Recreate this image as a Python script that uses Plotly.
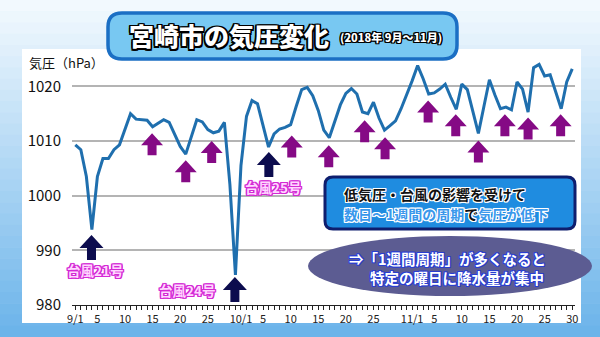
import plotly.graph_objects as go

# Daily sea-level pressure at Miyazaki, 2018-09-01 .. 2018-11-30 (hPa)
sep_hpa = [1009.3, 1008.4, 1003.5, 993.8, 1003.5, 1006.8, 1006.8, 1008.4, 1009.3, 1012.0,
           1015.0, 1014.0, 1013.9, 1013.8, 1012.6, 1013.2, 1013.9, 1013.4, 1011.3, 1009.0,
           1007.6, 1010.8, 1013.9, 1013.5, 1012.1, 1011.5, 1011.8, 1013.4, 1002.0, 985.5]
oct_hpa = [1005.5, 1014.5, 1017.4, 1016.8, 1012.8, 1008.9, 1011.3, 1012.2, 1012.5, 1013.0,
           1016.3, 1019.4, 1019.8, 1018.3, 1015.6, 1012.0, 1010.6, 1013.5, 1016.6, 1018.7,
           1019.6, 1018.6, 1015.3, 1015.0, 1017.1, 1014.2, 1012.0, 1012.8, 1013.7, 1015.9,
           1018.3]
nov_hpa = [1021.0, 1023.8, 1021.4, 1018.6, 1018.8, 1019.5, 1020.4, 1018.0, 1015.8, 1020.4,
           1019.4, 1015.4, 1011.4, 1016.3, 1021.2, 1018.4, 1015.9, 1016.2, 1015.7, 1020.8,
           1019.5, 1015.3, 1023.4, 1024.0, 1021.9, 1022.1, 1019.1, 1015.9, 1020.8, 1023.2]

pressure = sep_hpa + oct_hpa + nov_hpa
days = list(range(len(pressure)))

tick_pos = [0, 4, 9, 14, 19, 24, 30, 34, 39, 44, 49, 54, 61, 65, 70, 75, 80, 85, 90]
tick_text = ["9/1", "5", "10", "15", "20", "25", "10/1", "5", "10", "15", "20", "25",
             "11/1", "5", "10", "15", "20", "25", "30"]
y_ticks = [980, 990, 1000, 1010, 1020]

# pressure dips from lows (day index, arrow tip in hPa)
low_days = [13.9, 20.0, 24.7, 39.2, 45.9, 52.4, 56.1, 63.9, 68.9, 73.0, 77.8, 82.0, 87.9]
low_tips = [1011.4, 1006.5, 1010.0, 1011.0, 1009.2, 1013.8, 1010.7, 1017.4, 1014.9,
            1010.1, 1014.9, 1014.3, 1014.9]

# typhoon passages
typhoon_names = ["台風21号", "台風24号", "台風25号"]
typhoon_days = [2.93, 28.9, 35.05]
typhoon_tips = [992.8, 985.1, 1008.0]
typhoon_label_days = [3.6, 20.3, 35.8]
typhoon_label_hpa = [986.4, 982.7, 1001.6]

# ---- geometry ----
W, H = 600, 337
ML, MR, MT, MB = 72, 25, 59, 32
X_RANGE = [-0.6, 90.5]
Y_RANGE = [980, 1025]
PW, PH = W - ML - MR, H - MT - MB
PX_PER_DAY = PW / (X_RANGE[1] - X_RANGE[0])
PX_PER_HPA = PH / (Y_RANGE[1] - Y_RANGE[0])


def px(x):
    return (x - ML) / PW


def py(y):
    return (H - MB - y) / PH


def outline(color, w=1.0):
    offs = [(-w, -w), (w, -w), (-w, w), (w, w), (0, w), (0, -w), (w, 0), (-w, 0)]
    return ", ".join(f"{dx}px {dy}px 0 {color}" for dx, dy in offs)


def mix(c1, c2, t):
    a = [int(c1[i:i + 2], 16) for i in (1, 3, 5)]
    b = [int(c2[i:i + 2], 16) for i in (1, 3, 5)]
    return "rgb({},{},{})".format(*[round(a[k] + (b[k] - a[k]) * t) for k in range(3)])


def rounded_rect(x0, y0, x1, y1, r):
    def P(x, y):
        return f"{px(x):.5f},{py(y):.5f}"
    return (f"M{P(x0 + r, y0)} L{P(x1 - r, y0)} Q{P(x1, y0)} {P(x1, y0 + r)} "
            f"L{P(x1, y1 - r)} Q{P(x1, y1)} {P(x1 - r, y1)} "
            f"L{P(x0 + r, y1)} Q{P(x0, y1)} {P(x0, y1 - r)} "
            f"L{P(x0, y0 + r)} Q{P(x0, y0)} {P(x0 + r, y0)} Z")


def arrow_polys(xs, tips, w, h, s, total):
    ax, ay = [], []
    for x0, y0 in zip(xs, tips):
        pts = [(0, 0), (w / 2, h), (s / 2, h), (s / 2, total), (-s / 2, total),
               (-s / 2, h), (-w / 2, h), (0, 0)]
        for dx, dy in pts:
            ax.append(x0 + dx / PX_PER_DAY)
            ay.append(y0 - dy / PX_PER_HPA)
        ax.append(None)
        ay.append(None)
    return ax, ay


shapes = []
# background gradient
n_band = 30
for i in range(n_band):
    y0 = H * i / n_band
    y1 = H * (i + 1) / n_band + 0.5
    shapes.append(dict(type="rect", xref="paper", yref="paper", layer="below",
                       x0=px(0), x1=px(W), y0=py(y0), y1=py(y1), line_width=0,
                       fillcolor=mix("#f2f9fe", "#6cb4ea", i / (n_band - 1))))
# white panel
shapes.append(dict(type="rect", xref="paper", yref="paper", layer="below",
                   x0=px(22), x1=px(581), y0=py(49), y1=py(323), line_width=0,
                   fillcolor="white"))
# title box
shapes.append(dict(type="path", xref="paper", yref="paper", layer="above",
                   path=rounded_rect(108, 13, 457, 59, 14), fillcolor="#78c8f2",
                   line=dict(color="#1b6fc4", width=3.5)))
# explanation box
shapes.append(dict(type="path", xref="paper", yref="paper", layer="above",
                   path=rounded_rect(325, 177, 575, 229, 8), fillcolor="#1f8ce0",
                   line=dict(color="#0e1e6e", width=3)))
# ellipse
shapes.append(dict(type="circle", xref="paper", yref="paper", layer="above",
                   x0=px(308), x1=px(592), y0=py(296), y1=py(236),
                   fillcolor="#5c5c92", line_width=0))

fig = go.Figure()
fig.add_trace(go.Scatter(x=days, y=pressure, mode="lines",
                         line=dict(color="#1f6fae", width=3),
                         hoverinfo="skip", showlegend=False))

ax, ay = arrow_polys(low_days, low_tips, 22, 12, 9, 22)
fig.add_trace(go.Scatter(x=ax, y=ay, mode="lines", fill="toself", fillcolor="#850a85",
                         line=dict(width=0, color="#850a85"), hoverinfo="skip",
                         showlegend=False))
tx, ty = arrow_polys(typhoon_days, typhoon_tips, 24, 13, 9, 25)
fig.add_trace(go.Scatter(x=tx, y=ty, mode="lines", fill="toself", fillcolor="#0c0c4e",
                         line=dict(width=0, color="#0c0c4e"), hoverinfo="skip",
                         showlegend=False))

JP = "Noto Sans CJK JP"
ann = []
ann.append(dict(xref="paper", yref="paper", x=px(229), y=py(35), text="宮崎市の気圧変化",
                showarrow=False, xanchor="center", yanchor="middle",
                font=dict(family=JP, size=25, color="white", weight=900,
                          shadow=outline("#000", 1.5))))
ann.append(dict(xref="paper", yref="paper", x=px(391), y=py(37),
                text="(2018年 9月～11月)", showarrow=False, xanchor="center",
                yanchor="middle",
                font=dict(family=JP, size=11, color="white", weight=900,
                          shadow=outline("#000", 1.2))))
ann.append(dict(xref="paper", yref="paper", x=px(27), y=py(62), text="気圧（hPa）",
                showarrow=False, xanchor="left", yanchor="middle",
                font=dict(family=JP, size=13, color="#111")))
ann.append(dict(xref="paper", yref="paper", x=px(342), y=py(194),
                text="低気圧・台風の影響を受けて", showarrow=False, xanchor="left",
                yanchor="middle",
                font=dict(family=JP, size=14, color="#111", weight="bold",
                          shadow=outline("#fff", 1))))
ann.append(dict(xref="paper", yref="paper", x=px(342), y=py(214),
                text="<span style='color:#3a98ec'>数日～1週間の周期</span>で"
                     "<span style='color:#3a98ec'>気圧が低下</span>",
                showarrow=False, xanchor="left", yanchor="middle",
                font=dict(family=JP, size=14, color="#111", weight="bold",
                          shadow=outline("#fff", 1))))
ann.append(dict(xref="paper", yref="paper", x=px(347), y=py(258),
                text="⇒「1週間周期」が多くなると", showarrow=False, xanchor="left",
                yanchor="middle",
                font=dict(family=JP, size=14.5, color="white", weight="bold",
                          shadow=outline("#2a3ed0", 1))))
ann.append(dict(xref="paper", yref="paper", x=px(368), y=py(277),
                text="特定の曜日に降水量が集中", showarrow=False, xanchor="left",
                yanchor="middle",
                font=dict(family=JP, size=14.5, color="white", weight="bold",
                          shadow=outline("#2a3ed0", 1))))
for name, d, v in zip(typhoon_names, typhoon_label_days, typhoon_label_hpa):
    ann.append(dict(xref="x", yref="y", x=d, y=v, text=name, showarrow=False,
                    xanchor="center", yanchor="middle",
                    font=dict(family=JP, size=13.5, color="#ffd6ff", weight="bold",
                              shadow=outline("#d42ad4", 1.2))))

fig.update_layout(
    width=W, height=H, autosize=False,
    margin=dict(l=ML, r=MR, t=MT, b=MB, pad=0),
    paper_bgcolor="#dceefb", plot_bgcolor="rgba(0,0,0,0)",
    font=dict(family=JP, color="#111"),
    shapes=shapes, annotations=ann, showlegend=False,
    xaxis=dict(range=X_RANGE, tickmode="array", tickvals=tick_pos, ticktext=tick_text,
               ticks="outside", ticklen=4, tickwidth=1, tickcolor="#222",
               showline=True, linecolor="#222", linewidth=1, showgrid=False,
               zeroline=False, tickfont=dict(size=11, color="#222"),
               minor=dict(tickmode="linear", tick0=0, dtick=1, ticks="outside",
                          ticklen=4, tickwidth=1, tickcolor="#222", showgrid=False)),
    yaxis=dict(range=Y_RANGE, tickmode="array", tickvals=y_ticks, ticks="",
               showgrid=True, gridcolor="#b4b4b4", gridwidth=1.5, zeroline=False,
               showline=False, tickfont=dict(size=15, color="#111"),
               ticklabelstandoff=10),
)

fig.write_html("out.html")
